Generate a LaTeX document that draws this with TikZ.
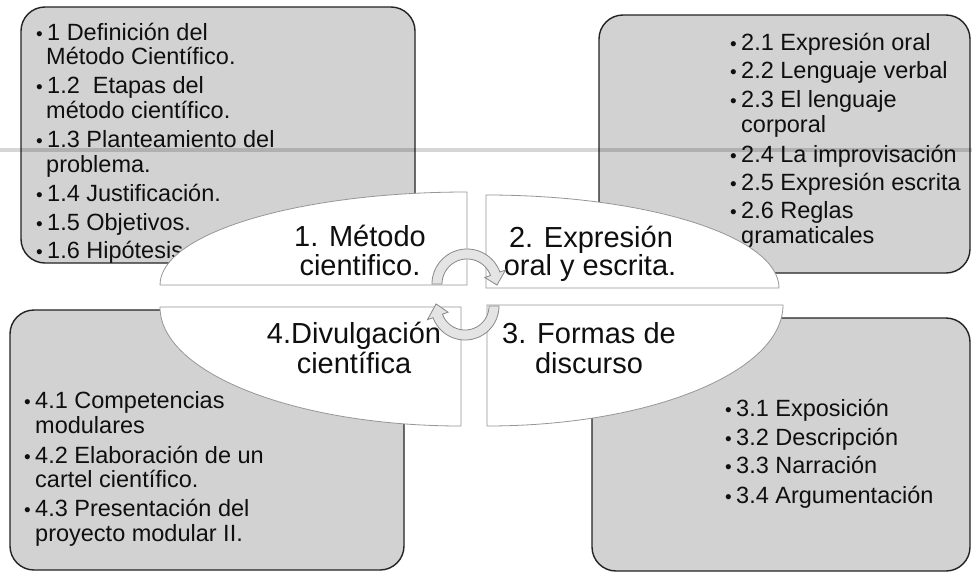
\documentclass[tikz,border=0pt]{standalone}
\usepackage{fontspec}
\setmainfont{Liberation Sans}
\definecolor{boxfill}{RGB}{210,210,210}
\definecolor{boxline}{RGB}{35,35,35}
\definecolor{slline}{RGB}{150,150,150}
\definecolor{arrfill}{RGB}{228,228,228}
\definecolor{arrline}{RGB}{135,135,135}
\definecolor{txt}{RGB}{15,15,15}
\newcommand{\bul}{\llap{{\fontsize{19}{19}\selectfont\textbullet}\hspace{4.5pt}}}
\begin{document}
\begin{tikzpicture}[x=1pt,y=-1pt,
  box/.style={draw=boxline, fill=boxfill, line width=1.4pt, rounded corners=24pt},
  item/.style={anchor=base west, inner sep=0pt, text=txt, font=\fontsize{23.5}{24.5}\selectfont},
  lab/.style={anchor=base, inner sep=0pt, text=txt, font=\fontsize{29}{30}\selectfont},
  slice/.style={fill=white, draw=slline, line width=0.8pt},
  carrow/.style={fill=arrfill, draw=arrline, line width=0.8pt}]
\useasboundingbox (0,0) rectangle (972,573);
\fill[white] (0,0) rectangle (972,573);

% ---- boxes and their texts ----
\draw[box] (21,7) rectangle (415,263);
\node[item] (t1a) at (47,40) {\bul 1 Definición del};
\node[item] (t1b) at (46,64) {Método Científico.};
\node[item] (t1c) at (47,93) {\bul 1.2\ \ Etapas del};
\node[item] (t1d) at (46,118) {método científico.};
\node[item] (t1e) at (47,147) {\bul 1.3 Planteamiento del};
\node[item] (t1f) at (46,172) {problema.};
\node[item] (t1g) at (47,201) {\bul 1.4 Justificación.};
\node[item] (t1h) at (47,230) {\bul 1.5 Objetivos.};
\node[item] (t1i) at (47,258) {\bul 1.6 Hipótesis};

\draw[box] (599,15) rectangle (970,273);
\node[item] (t2a) at (741,50) {\bul 2.1 Expresión oral};
\node[item] (t2b) at (741,78) {\bul 2.2 Lenguaje verbal};
\node[item] (t2c) at (741,107) {\bul 2.3 El lenguaje};
\node[item] (t2d) at (741,132) {corporal};
\node[item] (t2e) at (741,162) {\bul 2.4 La improvisación};
\node[item] (t2f) at (741,190) {\bul 2.5 Expresión escrita};
\node[item] (t2g) at (741,218) {\bul 2.6 Reglas};
\node[item] (t2h) at (741,243) {gramaticales};

\draw[box] (10,310) rectangle (404,570);
\node[item] (t4a) at (35,408) {\bul 4.1 Competencias};
\node[item] (t4b) at (35,433) {modulares};
\node[item] (t4c) at (35,463) {\bul 4.2 Elaboración de un};
\node[item] (t4d) at (35,487) {cartel científico.};
\node[item] (t4e) at (35,516) {\bul 4.3 Presentación del};
\node[item] (t4f) at (35,541) {proyecto modular II.};

\draw[box] (592,318) rectangle (970,571);
\node[item] (t3a) at (736,416) {\bul 3.1 Exposición};
\node[item] (t3b) at (736,445) {\bul 3.2 Descripción};
\node[item] (t3c) at (736,473) {\bul 3.3 Narración};
\node[item] (t3d) at (736,503) {\bul 3.4 Argumentación};

% ---- scanner line ----
\fill[black, opacity=0.16] (0,147.5) rectangle (972,151.5);

% ---- four white quarter-ellipse slices ----
\draw[slice] (160,285) .. controls (160,233.6) and (297.4,192) .. (467,192) -- (467,285) -- cycle;
\draw[slice] (486,195) .. controls (647.8,195) and (779,236.6) .. (779,288) -- (486,288) -- cycle;
\draw[slice] (160,307) .. controls (160,372.7) and (294.8,426) .. (461,426) -- (461,307) -- cycle;
\draw[slice] (487,426) .. controls (650.5,426) and (783,371.8) .. (783,305) -- (487,305) -- cycle;

\node[lab] (l1a) at (360,246) {1. Método};
\node[lab] (l1b) at (360,275) {cientifico.};
\node[lab] (l2a) at (591,247) {2. Expresión};
\node[lab] (l2b) at (590,275) {oral y escrita.};
\node[lab] (l3a) at (589,343) {3. Formas de};
\node[lab] (l3b) at (589,373) {discurso};
\node[lab] (l4a) at (354,343) {4.Divulgación};
\node[lab] (l4b) at (354,373) {científica};

% ---- circular arrows ----
\draw[carrow] plot[domain=180:340, samples=40] ({467+35*cos(\x)},{284+35*sin(\x)})
  -- ({467+41*cos(340)},{284+41*sin(340)})
  -- ({467+30*cos(2)},{284+30*sin(2)})
  -- ({467+19*cos(340)},{284+19*sin(340)})
  -- plot[domain=340:180, samples=40] ({467+25*cos(\x)},{284+25*sin(\x)}) -- cycle;
\draw[carrow] plot[domain=0:160, samples=40] ({465+34*cos(\x)},{306+34*sin(\x)})
  -- ({465+40*cos(160)},{306+40*sin(160)})
  -- ({465+29*cos(184)},{306+29*sin(184)})
  -- ({465+18*cos(160)},{306+18*sin(160)})
  -- plot[domain=160:0, samples=40] ({465+24*cos(\x)},{306+24*sin(\x)}) -- cycle;
\end{tikzpicture}
\end{document}
